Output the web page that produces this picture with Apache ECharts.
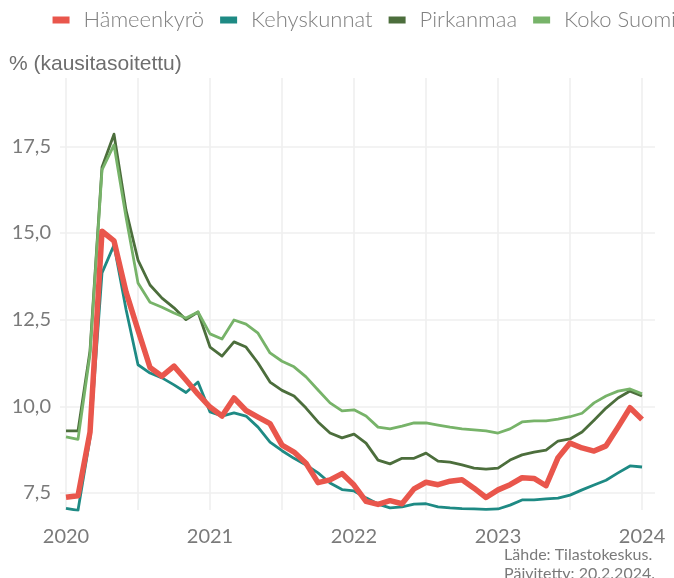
<!DOCTYPE html>
<html>
<head>
<meta charset="utf-8">
<script src="https://cdn.jsdelivr.net/npm/echarts@6/dist/echarts.min.js"></script>
<style>
    html, body { margin: 0; padding: 0; background: #fff; }
    #chart { width: 674px; height: 578px; }
</style>
</head>
<body>
<div id="chart"></div>
<script>
// kuukaudet 2020-01 ... 2024-01 (indeksi 0..48)
var startYear = 2020;
var months = [];
for (var m = 0; m <= 48; m++) months.push(m);

var seriesNames = ["Hämeenkyrö", "Kehyskunnat", "Pirkanmaa", "Koko Suomi"];
var seriesColors = ["#E9564C", "#1E8A84", "#4C6E3C", "#77B369"];

var hameenkyro = [7.38, 7.42, 9.25, 15.05, 14.77, 13.3, 12.2, 11.12, 10.87, 11.16, 10.76, 10.35,
    9.98, 9.72, 10.24, 9.88, 9.69, 9.5, 8.88, 8.68, 8.36, 7.8, 7.88, 8.06,
    7.73, 7.26, 7.17, 7.28, 7.19, 7.62, 7.81, 7.74, 7.84, 7.88, 7.64, 7.37,
    7.59, 7.74, 7.94, 7.92, 7.71, 8.52, 8.94, 8.8, 8.71, 8.86, 9.4, 9.96,
    9.62];
var kehyskunnat = [7.06, 7.0, 9.08, 13.85, 14.65, 12.8, 11.2, 10.96, 10.82, 10.62, 10.4, 10.7,
    9.84, 9.72, 9.81, 9.72, 9.4, 8.97, 8.72, 8.5, 8.31, 8.08, 7.79, 7.6,
    7.56, 7.36, 7.18, 7.07, 7.1, 7.18, 7.19, 7.1, 7.07, 7.05, 7.04, 7.03,
    7.04, 7.15, 7.3, 7.3, 7.33, 7.35, 7.44, 7.59, 7.73, 7.87, 8.08, 8.28,
    8.25];
var pirkanmaa = [9.29, 9.29, 11.6, 16.9, 17.85, 15.66, 14.22, 13.5, 13.12, 12.84, 12.5, 12.72,
    11.71, 11.45, 11.86, 11.71, 11.25, 10.7, 10.46, 10.3, 9.95, 9.55, 9.23, 9.09,
    9.2, 8.94, 8.45, 8.34, 8.5, 8.5, 8.65, 8.42, 8.39, 8.31, 8.22, 8.19,
    8.22, 8.45, 8.6, 8.68, 8.74, 9.0, 9.06, 9.26, 9.6, 9.95, 10.24, 10.44,
    10.3];
var kokoSuomi = [9.12, 9.05, 11.5, 16.82, 17.54, 15.46, 13.56, 13.0, 12.86, 12.69, 12.55, 12.72,
    12.09, 11.94, 12.49, 12.37, 12.11, 11.54, 11.3, 11.14, 10.85, 10.47, 10.1, 9.87,
    9.9, 9.72, 9.4, 9.35, 9.43, 9.52, 9.52, 9.46, 9.4, 9.35, 9.32, 9.29,
    9.23, 9.35, 9.55, 9.58, 9.58, 9.63, 9.7, 9.8, 10.1, 10.3, 10.44, 10.5,
    10.36];

var xGridTicks = [0, 6, 12, 18, 24, 30, 36, 42, 48];
var xLabelTicks = [0, 12, 24, 36, 48];
var yTicks = [7.5, 10, 12.5, 15, 17.5];

var gray = "#7a7a7a",
    gridColor = "#efefef";

function pairs(values) {
    return values.map(function(v, i) {
        return [months[i], v];
    });
}

var allValues = [hameenkyro, kehyskunnat, pirkanmaa, kokoSuomi];
var widths = [5.5, 2.8, 2.8, 2.8];
var zs = [5, 2, 3, 4];

var series = seriesNames.map(function(name, i) {
    return {
        name: name,
        type: "line",
        data: pairs(allValues[i]),
        symbol: "none",
        z: zs[i],
        color: seriesColors[i],
        lineStyle: { width: widths[i], color: seriesColors[i], join: "round" }
    };
});

var chart = echarts.init(document.getElementById("chart"), null, { renderer: "canvas" });
chart.setOption({
    animation: false,
    backgroundColor: "#ffffff",
    title: {
        text: "% (kausitasoitettu)",
        left: 4,
        top: 49,
        textStyle: { fontFamily: "Liberation Sans", fontWeight: "normal", fontSize: 21, color: "#6e6e6e" }
    },
    legend: {
        data: seriesNames,
        right: -2,
        top: 9,
        padding: 0,
        icon: "rect",
        itemWidth: 17,
        itemHeight: 7,
        itemGap: 16,
        textStyle: { fontFamily: "Lato", fontWeight: 300, fontSize: 22, color: "#808080", padding: [0, 0, 0, 9] }
    },
    grid: { left: 60, right: 19, top: 78, bottom: 68, containLabel: false },
    xAxis: {
        type: "value",
        min: -0.5,
        max: 49.08,
        axisLine: { show: false },
        axisTick: { show: false, customValues: xGridTicks },
        splitLine: { show: true, lineStyle: { color: gridColor, width: 1.6 } },
        axisLabel: {
            customValues: xLabelTicks,
            margin: 17,
            fontFamily: "Lato",
            fontSize: 20,
            color: gray,
            formatter: function(v) { return String(startYear + Math.round(v / 12)); }
        }
    },
    yAxis: {
        type: "value",
        min: 7.01,
        max: 19.47,
        axisLine: { show: false },
        axisTick: { show: false, customValues: yTicks },
        splitLine: { show: true, lineStyle: { color: gridColor, width: 1.6 } },
        axisLabel: {
            customValues: yTicks,
            margin: 9,
            fontFamily: "Lato",
            fontSize: 20,
            color: gray,
            formatter: function(v) { return v.toFixed(1).replace(".", ","); }
        }
    },
    graphic: [{
        type: "text",
        right: 19,
        top: 545,
        style: {
            text: "Lähde: Tilastokeskus.\nPäivitetty: 20.2.2024.",
            align: "right",
            fontFamily: "Lato",
            fontSize: 16,
            lineHeight: 19,
            fill: gray
        }
    }],
    series: series
});
</script>
</body>
</html>
